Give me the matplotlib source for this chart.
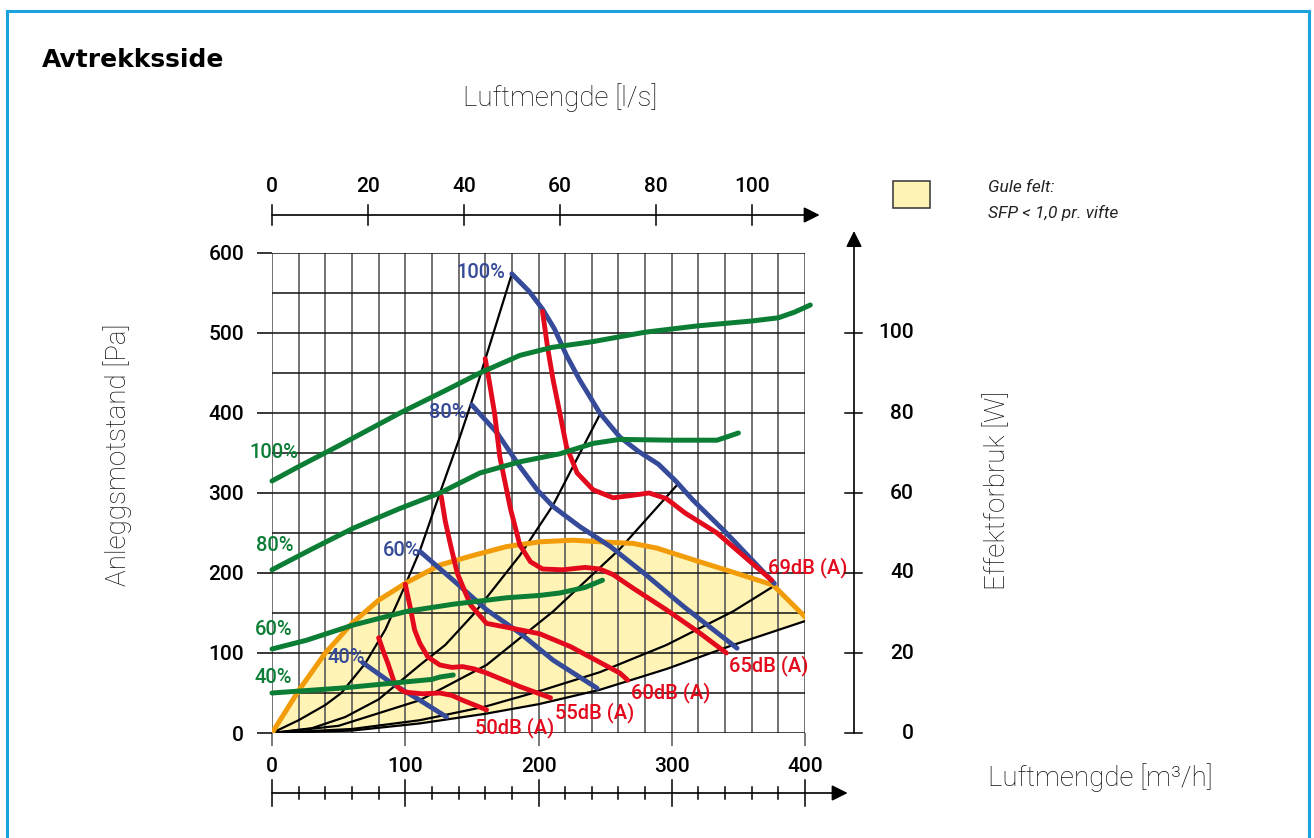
import matplotlib
matplotlib.use("Agg")
import matplotlib.pyplot as plt
from matplotlib.patches import Rectangle
from matplotlib.transforms import blended_transform_factory

plt.rcParams["font.family"] = ["Roboto", "DejaVu Sans"]

# Figure size in pixels (dpi 100)
W_PX, H_PX = 1314, 838

# --- axes values -----------------------------------------------------------
flow_major = [0, 100, 200, 300, 400]             # m3/h
flow_minor = list(range(0, 401, 20))
flow_ls = [0, 20, 40, 60, 80, 100]                # l/s (top scale)
pa_major = [0, 100, 200, 300, 400, 500, 600]
pa_minor = list(range(0, 601, 50))
power_ticks = [0, 20, 40, 60, 80, 100]            # W (right scale)

# --- system curves (black), m3/h vs Pa ------------------------------------
sys1_x = [0, 20, 40, 52, 70, 85, 99, 111, 126, 141, 155, 180]
sys1_pa = [0, 16, 35, 50, 87, 129, 181, 228, 300, 370, 440, 574]
sys2_x = [0, 30, 55, 80, 111, 130, 151, 186, 211, 246]
sys2_pa = [0, 6, 20, 42, 85, 110, 148, 222, 285, 398]
sys3_x = [0, 50, 111, 161, 211, 261, 304]
sys3_pa = [0, 9, 41, 85, 152, 230, 310]
sys4_x = [0, 60, 111, 160, 200, 246, 296, 346, 376]
sys4_pa = [0, 5, 16, 33, 52, 76, 110, 152, 183]
sys5_x = [0, 60, 111, 160, 200, 246, 296, 346, 402]
sys5_pa = [0, 3, 12, 24, 36, 54, 80, 110, 141]

# --- SFP boundary (orange) -------------------------------------------------
sfp_x = [0, 20, 40, 60, 80, 101, 126, 151, 176, 201, 226, 246, 271, 289,
         321, 346, 376, 402]
sfp_pa = [0, 53, 100, 137, 166, 188, 210, 222, 233, 239, 241, 239, 237, 231,
          214, 201, 185, 142]

# --- fan curves (blue), m3/h vs Pa -----------------------------------------
fan100_x = [180, 193, 203, 212, 221, 231, 246, 261, 275, 290, 303, 316, 341, 377]
fan100_pa = [574, 552, 530, 505, 472, 441, 400, 370, 352, 336, 315, 291, 250, 187]
fan80_x = [150, 169, 186, 199, 211, 231, 254, 279, 309, 349]
fan80_pa = [410, 375, 333, 304, 283, 258, 233, 200, 158, 106]
fan60_x = [111, 136, 161, 186, 211, 244]
fan60_pa = [227, 191, 154, 125, 91, 56]
fan40_x = [68, 90, 110, 131]
fan40_pa = [88, 62, 42, 20]

# --- power curves (green), m3/h vs W ---------------------------------------
pow100_x = [0, 20, 50, 96, 130, 156, 186, 210, 240, 280, 320, 360, 380, 392, 404]
pow100_w = [63, 66.6, 71.8, 80, 85.6, 90, 94.4, 96.4, 97.8, 100.2, 101.8, 103,
            103.8, 105.2, 107]
pow80_x = [0, 30, 61, 95, 126, 156, 186, 216, 241, 261, 300, 334, 350]
pow80_w = [40.8, 46, 51.2, 56, 60, 65, 67.8, 69.8, 72.4, 73.4, 73.2, 73.2, 75]
pow60_x = [0, 26, 61, 101, 136, 176, 201, 216, 235, 248]
pow60_w = [21, 23.2, 27, 30.4, 32.2, 33.8, 34.4, 35, 36.4, 38.2]
pow40_x = [0, 51, 101, 120, 126, 136]
pow40_w = [10, 11.2, 12.8, 13.4, 14, 14.5]

# --- sound level curves (red), m3/h vs Pa ----------------------------------
db69_x = [203, 207, 211, 216, 221, 229, 241, 256, 270, 283, 296, 310, 334, 375]
db69_pa = [527, 480, 441, 400, 358, 325, 304, 294, 297, 300, 293, 275, 250, 191]
db65_x = [160, 163, 167, 171, 179, 186, 194, 203, 218, 235, 246, 256, 271, 296,
          321, 341]
db65_pa = [468, 440, 400, 345, 280, 235, 214, 205, 204, 207, 205, 198, 181, 154,
           125, 100]
db60_x = [127, 130, 134, 139, 149, 161, 186, 201, 224, 261, 267]
db60_pa = [296, 265, 235, 200, 160, 137, 129, 124, 108, 75, 66]
db55_x = [100, 104, 107, 111, 117, 126, 135, 143, 152, 161, 186, 209]
db55_pa = [186, 155, 129, 112, 95, 85, 82, 83, 80, 75, 58, 44]
db50_x = [80, 84, 87, 92, 96, 100, 113, 126, 135, 143, 161]
db50_pa = [119, 100, 87, 62, 55, 51, 49, 50, 47, 41, 29]

speed_labels = ["100%", "80%", "60%", "40%"]
db_labels = ["69dB (A)", "65dB (A)", "60dB (A)", "55dB (A)", "50dB (A)"]

GREEN = "#0b7d35"
BLUE = "#354a98"
RED = "#e30a1d"
ORANGE = "#f39c0a"
YELLOW = "#fff4b6"
BORDER = "#1ba3dd"
TICK_FS = 15


def fx(px):
    return px / W_PX


def fy(py):
    return 1 - py / H_PX


fig = plt.figure(figsize=(W_PX / 100, H_PX / 100), dpi=100)

# blue frame
for xs, ys in [([7, 7], [838, 11]), ([7, 1309], [11, 11]), ([1309, 1309], [11, 838])]:
    fig.add_artist(plt.Line2D([fx(v) for v in xs], [fy(v) for v in ys],
                              color=BORDER, lw=2.2))

ax = fig.add_axes([fx(272), fy(733), (805 - 272) / W_PX, (733 - 253) / H_PX])
ax.set_xlim(0, 400)
ax.set_ylim(0, 600)
for s in ax.spines.values():
    s.set_visible(False)

ax.set_xticks(flow_major)
ax.set_xticklabels([])
ax.set_xticks(flow_minor, minor=True)
ax.set_yticks(pa_major)
ax.set_yticks(pa_minor, minor=True)
ax.tick_params(axis="x", which="major", length=9, width=1.1, color="#555")
ax.tick_params(axis="x", which="minor", length=0)
ax.tick_params(axis="y", which="major", length=11, width=1.1, pad=9,
               labelsize=TICK_FS)
ax.tick_params(axis="y", which="minor", length=0)
for lbl in ax.get_yticklabels():
    lbl.set_fontweight("medium")
ax.set_axisbelow(True)
ax.grid(axis="x", which="both", color="#5a5a5a", lw=1.2)
ax.grid(axis="y", which="both", color="#111", lw=1.1)

# yellow SFP area between orange boundary and lowest system curve
poly_x = sfp_x + sys5_x[::-1]
poly_y = sfp_pa + sys5_pa[::-1]
ax.fill(poly_x, poly_y, color=YELLOW, lw=0, zorder=0.2)

for xs, ys in [(sys1_x, sys1_pa), (sys2_x, sys2_pa), (sys3_x, sys3_pa),
               (sys4_x, sys4_pa), (sys5_x, sys5_pa)]:
    ax.plot(xs, ys, color="k", lw=1.6, zorder=2, solid_capstyle="round")

ax.plot(sfp_x, sfp_pa, color=ORANGE, lw=3.6, zorder=3, solid_capstyle="round")

for xs, ys in [(fan100_x, fan100_pa), (fan80_x, fan80_pa), (fan60_x, fan60_pa),
               (fan40_x, fan40_pa)]:
    ax.plot(xs, ys, color=BLUE, lw=3.5, zorder=4, solid_capstyle="round")

for xs, ys in [(db69_x, db69_pa), (db65_x, db65_pa), (db60_x, db60_pa),
               (db55_x, db55_pa), (db50_x, db50_pa)]:
    ax.plot(xs, ys, color=RED, lw=3.5, zorder=5, solid_capstyle="round")

# power axis (right)
ax2 = ax.twinx()
ax2.set_ylim(0, 120)
for s in ax2.spines.values():
    s.set_visible(False)
ax2.set_yticks([])
for xs, ws in [(pow100_x, pow100_w), (pow80_x, pow80_w), (pow60_x, pow60_w),
               (pow40_x, pow40_w)]:
    ax2.plot(xs, ws, color=GREEN, lw=3.6, zorder=6, solid_capstyle="round",
             clip_on=False)

# curve labels
lab_kw = dict(fontsize=14.5, ha="center", va="center", zorder=7,
              fontweight="medium")
for txt, (x, y) in zip(speed_labels, [(1, 350), (2, 234), (1, 129), (1, 69)]):
    ax.text(x, y, txt, color=GREEN, **lab_kw)
for txt, (x, y) in zip(speed_labels, [(157, 576), (132, 400), (97, 228), (56, 94)]):
    ax.text(x, y, txt, color=BLUE, **lab_kw)
for txt, (x, y) in zip(db_labels, [(402, 207), (373, 84), (299, 51), (242, 25),
                                   (182, 7)]):
    ax.text(x, y, txt, color=RED, **lab_kw)

# bottom arrow axis (m3/h)
tb = blended_transform_factory(ax.transData, fig.transFigure)
yb = fy(793)
ax.annotate("", xy=(432, yb), xytext=(0, yb), xycoords=tb, textcoords=tb,
            arrowprops=dict(arrowstyle="-|>", mutation_scale=24, color="k",
                            lw=1.2, shrinkA=0, shrinkB=0))
for v in flow_minor:
    h = 13 if v in flow_major else 6
    ax.plot([v, v], [fy(793 - h), fy(793 + h)], transform=tb, color="k",
            lw=1.1, clip_on=False)
for v in flow_major:
    ax.text(v, fy(766), str(v), transform=tb, ha="center", va="center",
            fontsize=TICK_FS, fontweight="medium")

# top arrow axis (l/s)
yt = fy(215)
ax.annotate("", xy=(411, yt), xytext=(0, yt), xycoords=tb, textcoords=tb,
            arrowprops=dict(arrowstyle="-|>", mutation_scale=24, color="k",
                            lw=1.2, shrinkA=0, shrinkB=0))
for v in flow_ls:
    ax.plot([v * 3.6, v * 3.6], [fy(205), fy(225)], transform=tb, color="k",
            lw=1.1, clip_on=False)
    ax.text(v * 3.6, fy(186), str(v), transform=tb, ha="center", va="center",
            fontsize=TICK_FS, fontweight="medium")

# right arrow axis (W)
tr = blended_transform_factory(fig.transFigure, ax2.transData)
xr = fx(854)
ax2.annotate("", xy=(xr, 125.5), xytext=(xr, 0), xycoords=tr, textcoords=tr,
             arrowprops=dict(arrowstyle="-|>", mutation_scale=24, color="k",
                             lw=1.2, shrinkA=0, shrinkB=0))
for v in power_ticks:
    ax2.plot([fx(845), fx(862)], [v, v], transform=tr, color="k", lw=1.1,
             clip_on=False)
    ax2.text(fx(914), v, str(v), transform=tr, ha="right", va="center",
             fontsize=TICK_FS, fontweight="medium")

# titles and axis names
fig.text(fx(42), fy(60), "Avtrekksside", fontsize=18, fontweight="bold",
         ha="left", va="center", family=["DejaVu Sans"])
name_kw = dict(fontsize=20, fontweight="light", color="#111")
fig.text(fx(560), fy(98), "Luftmengde [l/s]", ha="center", va="center",
         **name_kw)
fig.text(fx(118), fy(455), "Anleggsmotstand [Pa]", rotation=90, ha="center",
         va="center", **name_kw)
fig.text(fx(998), fy(490), "Effektforbruk [W]", rotation=90, ha="center",
         va="center", **name_kw)
fig.text(fx(988), fy(778), "Luftmengde [m³/h]", ha="left", va="center",
         **name_kw)

# legend
fig.add_artist(Rectangle((fx(893), fy(208)), (930 - 893) / W_PX,
                         (208 - 181) / H_PX, facecolor=YELLOW,
                         edgecolor="#333", lw=1.1, transform=fig.transFigure))
fig.text(fx(988), fy(188), "Gule felt:", fontsize=12.5, style="italic",
         color="#222", ha="left", va="center")
fig.text(fx(988), fy(213), "SFP < 1,0 pr. vifte", fontsize=12.5, style="italic",
         color="#222", ha="left", va="center")

fig.savefig("out.png", dpi=100)
